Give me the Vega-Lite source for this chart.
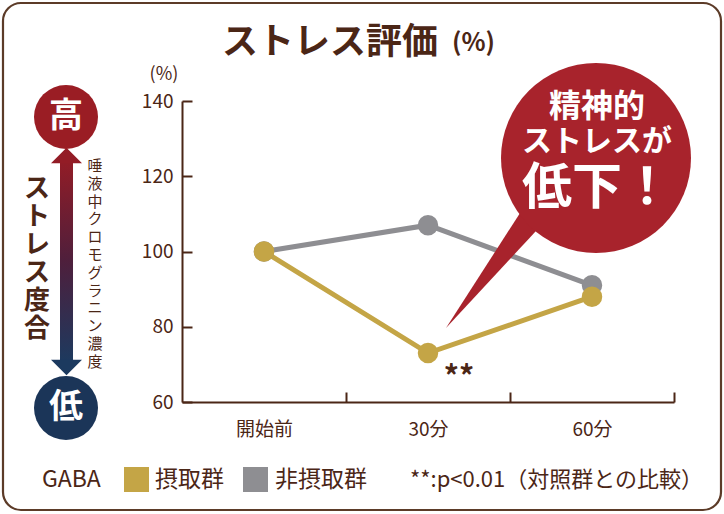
{
  "$schema": "https://vega.github.io/schema/vega-lite/v6.json",
  "width": 492,
  "height": 301,
  "autosize": {"type": "none"},
  "padding": {"left": 182, "top": 101, "right": 50, "bottom": 112},
  "background": "#ffffff",
  "config": {
    "view": {"stroke": null},
    "font": "Noto Sans CJK JP",
    "text": {"font": "Noto Sans CJK JP", "color": "#4b2616"}
  },
  "encoding": {
    "x": {
      "field": "x", "type": "quantitative",
      "scale": {"domain": [0, 3], "nice": false, "zero": false},
      "axis": {
        "values": [0.5, 1, 1.5, 2, 2.5, 3],
        "title": null, "grid": false,
        "domainColor": "#4b2616", "domainWidth": 2,
        "tickColor": "#4b2616", "tickWidth": 2, "tickSize": -10,
        "tickOpacity": {"condition": {"test": "datum.value % 1 !== 0", "value": 0}, "value": 1},
        "labelExpr": "datum.value == 0.5 ? '開始前' : datum.value == 1.5 ? '30分' : datum.value == 2.5 ? '60分' : ''",
        "labelFont": "Noto Sans CJK JP", "labelFontSize": 19, "labelColor": "#4b2616",
        "labelPadding": 28, "labelFlush": false, "labelOverlap": false, "labelBound": false
      }
    },
    "y": {
      "field": "y", "type": "quantitative",
      "scale": {"domain": [60, 140], "nice": false, "zero": false},
      "axis": {
        "values": [60, 80, 100, 120, 140],
        "title": null, "grid": false,
        "domainColor": "#4b2616", "domainWidth": 2,
        "tickColor": "#4b2616", "tickWidth": 2, "tickSize": -10,
        "labelFont": "Noto Sans CJK JP", "labelFontSize": 19, "labelColor": "#4b2616",
        "labelPadding": 19, "labelFlush": false, "labelOverlap": false
      }
    }
  },
  "layer": [
    {
      "data": {"values": [{"x": -1.0915, "x2": 3.2866, "y": 166.05, "y2": 31.3}]},
      "mark": {"type": "rect", "fillOpacity": 0, "stroke": "#5c3b28", "strokeWidth": 2.2, "cornerRadius": 18},
      "encoding": {"x2": {"field": "x2"}, "y2": {"field": "y2"}}
    },
    {
      "data": {"values": [{"x": -0.7439, "x2": -0.6646, "y": 124.32, "y2": 70.36}]},
      "mark": {"type": "rect", "fill": {"gradient": "linear", "x1": 0, "y1": 0, "x2": 0, "y2": 1, "stops": [{"offset": 0, "color": "#931c26"}, {"offset": 0.5, "color": "#4e1f3c"}, {"offset": 1, "color": "#1c3a5f"}]}},
      "encoding": {"x2": {"field": "x2"}, "y2": {"field": "y2"}}
    },
    {
      "data": {"values": [{"x": -0.7043, "y": 125.51}]},
      "mark": {"type": "point", "shape": "M -1 0.5 L 1 0.5 L 0 -0.5 Z", "size": 961, "filled": true, "color": "#931c26", "opacity": 1}
    },
    {
      "data": {"values": [{"x": -0.7043, "y": 69.17}]},
      "mark": {"type": "point", "shape": "M -1 -0.5 L 1 -0.5 L 0 0.5 Z", "size": 961, "filled": true, "color": "#1c3a5f", "opacity": 1}
    },
    {
      "data": {"values": [{"x": -0.7073, "y": 135.75}]},
      "mark": {"type": "point", "shape": "circle", "size": 4096, "filled": true, "color": "#9a1d24", "opacity": 1}
    },
    {
      "data": {"values": [{"x": -0.7073, "y": 58.4}]},
      "mark": {"type": "point", "shape": "circle", "size": 4096, "filled": true, "color": "#1b3558", "opacity": 1}
    },
    {
      "data": {"values": [{"x": -0.7073, "y": 135.75, "t": "高"}, {"x": -0.7073, "y": 58.4, "t": "低"}]},
      "mark": {"type": "text", "color": "#ffffff", "fontSize": 34, "fontWeight": "bold", "align": "center", "baseline": "middle"},
      "encoding": {"text": {"field": "t", "type": "nominal"}}
    },
    {
      "data": {"values": [{"x": -0.884, "y": 116.6}]},
      "mark": {"type": "text", "text": ["ス", "ト", "レ", "ス", "度", "合"], "fontSize": 26, "lineHeight": 28, "fontWeight": "bold", "align": "center", "baseline": "middle"}
    },
    {
      "data": {"values": [{"x": -0.5305, "y": 122.7}]},
      "mark": {"type": "text", "text": ["唾", "液", "中", "ク", "ロ", "モ", "グ", "ラ", "ニ", "ン", "濃", "度"], "fontSize": 15, "lineHeight": 17.8, "align": "center", "baseline": "middle"}
    },
    {
      "data": {"values": [{"x": 0.2439, "y": 155.42, "t": "ストレス評価"}]},
      "mark": {"type": "text", "fontSize": 36, "fontWeight": "bold", "align": "left", "baseline": "middle"},
      "encoding": {"text": {"field": "t", "type": "nominal"}}
    },
    {
      "data": {"values": [{"x": 1.6463, "y": 155.42, "t": "(%)"}]},
      "mark": {"type": "text", "fontSize": 25, "fontWeight": "bold", "align": "left", "baseline": "middle"},
      "encoding": {"text": {"field": "t", "type": "nominal"}}
    },
    {
      "data": {"values": [{"x": -0.1098, "y": 146.9, "t": "(%)"}]},
      "mark": {"type": "text", "fontSize": 18, "align": "center", "baseline": "middle"},
      "encoding": {"text": {"field": "t", "type": "nominal"}}
    },
    {
      "data": {"name": "series", "values": [
        {"x": 0.5, "y": 100, "g": "非摂取群"},
        {"x": 1.5, "y": 107, "g": "非摂取群"},
        {"x": 2.5, "y": 91, "g": "非摂取群"},
        {"x": 0.5, "y": 100, "g": "摂取群"},
        {"x": 1.5, "y": 73, "g": "摂取群"},
        {"x": 2.5, "y": 88, "g": "摂取群"}
      ]},
      "layer": [
        {
          "mark": {"type": "line", "strokeWidth": 5},
          "encoding": {
            "color": {"field": "g", "type": "nominal", "scale": {"domain": ["摂取群", "非摂取群"], "range": ["#c4a546", "#8e8e92"]}, "legend": null}
          }
        },
        {
          "mark": {"type": "point", "filled": true, "size": 420, "opacity": 1},
          "encoding": {
            "color": {"field": "g", "type": "nominal", "scale": {"domain": ["摂取群", "非摂取群"], "range": ["#c4a546", "#8e8e92"]}, "legend": null}
          }
        }
      ]
    },
    {
      "data": {"values": [{"x": -0.2774, "y": 39.4, "g": "摂取群"}, {"x": 0.4482, "y": 39.4, "g": "非摂取群"}]},
      "mark": {"type": "point", "shape": "square", "filled": true, "size": 625, "opacity": 1},
      "encoding": {
        "color": {"field": "g", "type": "nominal", "scale": {"domain": ["摂取群", "非摂取群"], "range": ["#c4a546", "#8e8e92"]}, "legend": null}
      }
    },
    {
      "data": {"values": [
        {"x": -0.8537, "y": 39.4, "t": "GABA"},
        {"x": -0.1646, "y": 39.4, "t": "摂取群"},
        {"x": 0.5671, "y": 39.4, "t": "非摂取群"}
      ]},
      "mark": {"type": "text", "fontSize": 23, "align": "left", "baseline": "middle"},
      "encoding": {"text": {"field": "t", "type": "nominal"}}
    },
    {
      "data": {"values": [{"x": 1.689, "y": 66.4, "t": "**"}]},
      "mark": {"type": "text", "fontSize": 30, "fontWeight": "bold", "align": "center", "baseline": "middle"},
      "encoding": {"text": {"field": "t", "type": "nominal"}}
    },
    {
      "data": {"values": [
        {"x": 1.6098, "y": 79.67, "y2": 79.67},
        {"x": 2.122, "y": 114.35, "y2": 103.75},
        {"x": 2.2439, "y": 109.49, "y2": 109.49}
      ]},
      "mark": {"type": "area", "color": "#a8232c", "opacity": 1},
      "encoding": {"y2": {"field": "y2"}}
    },
    {
      "data": {"values": [{"x": 2.5244, "y": 124.85}]},
      "mark": {"type": "point", "shape": "circle", "size": 36100, "filled": true, "color": "#a8232c", "opacity": 1}
    },
    {
      "data": {"values": [{"x": 2.5305, "y": 138.4, "t": "精神的"}]},
      "mark": {"type": "text", "color": "#ffffff", "fontSize": 32, "fontWeight": "bold", "align": "center", "baseline": "middle"},
      "encoding": {"text": {"field": "t", "type": "nominal"}}
    },
    {
      "data": {"values": [{"x": 2.5305, "y": 129.1, "t": "ストレスが"}]},
      "mark": {"type": "text", "color": "#ffffff", "fontSize": 30, "fontWeight": "bold", "align": "center", "baseline": "middle"},
      "encoding": {"text": {"field": "t", "type": "nominal"}}
    },
    {
      "data": {"values": [{"x": 2.5305, "y": 116.6, "t": "低下！"}]},
      "mark": {"type": "text", "color": "#ffffff", "fontSize": 50, "fontWeight": "bold", "align": "center", "baseline": "middle"},
      "encoding": {"text": {"field": "t", "type": "nominal"}}
    },
    {
      "data": {"values": [{"x": 1.3902, "y": 39.27, "t": "**:p<0.01（対照群との比較）"}]},
      "mark": {"type": "text", "fontSize": 22, "align": "left", "baseline": "middle"},
      "encoding": {"text": {"field": "t", "type": "nominal"}}
    }
  ]
}
